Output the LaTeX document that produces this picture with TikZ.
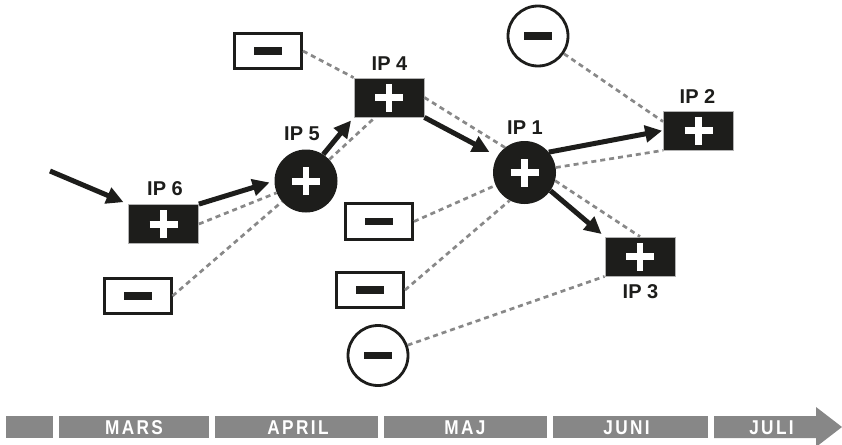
\documentclass[tikz,border=0pt]{standalone}
\usepackage{fontspec}
\setmainfont{Liberation Sans}
\usetikzlibrary{arrows.meta}
\definecolor{ink}{HTML}{1D1D1B}
\definecolor{bargray}{HTML}{878787}
\definecolor{dashgray}{HTML}{888888}
\tikzset{
  plussign/.style={path picture={
    \draw[white,line width=7pt] ([xshift=-14pt]path picture bounding box.center) -- ([xshift=14pt]path picture bounding box.center);
    \draw[white,line width=6.5pt] ([yshift=-14pt]path picture bounding box.center) -- ([yshift=14pt]path picture bounding box.center);}},
  minussign/.style={path picture={
    \fill[ink] ([xshift=-14pt,yshift=-3.8pt]path picture bounding box.center) rectangle ([xshift=14pt,yshift=3.8pt]path picture bounding box.center);}},
  ipbox/.style={rectangle, fill=ink, draw=gray!60, line width=0.8pt, minimum width=70pt, minimum height=39pt, inner sep=0pt, plussign},
  ipcirc/.style={circle, fill=ink, minimum size=63pt, inner sep=0pt, plussign},
  minbox/.style={rectangle, fill=white, draw=ink, line width=3pt, minimum width=67pt, minimum height=35.5pt, inner sep=0pt, minussign},
  mincirc/.style={circle, fill=white, draw=ink, line width=2.8pt, minimum size=60pt, inner sep=0pt, minussign},
  iplabel/.style={font=\bfseries\fontsize{20}{21}\selectfont, inner sep=0pt, text=ink},
  monthlabel/.style={font=\bfseries\fontsize{20}{21}\selectfont\addfontfeatures{FakeStretch=0.86,LetterSpace=12}, inner sep=0pt, text=white},
  arr/.style={draw=ink, line width=5pt, -{Triangle[length=17pt,width=16.5pt]}},
  dsh/.style={draw=dashgray, line width=2.7pt, dash pattern=on 5pt off 4pt},
}
\begin{document}
\begin{tikzpicture}[x=1pt,y=-1pt]
\useasboundingbox (0,0) rectangle (842,444);

\node[minbox] (m1) at (268,51) {};
\node[ipbox] (ip4) at (389,97.5) {};
\node[ipbox] (ip6) at (163.5,224) {};
\node[ipcirc] (ip5) at (306,181) {};
\node[ipcirc] (ip1) at (524.5,172.5) {};
\node[mincirc] (mc1) at (538,36) {};
\node[ipbox] (ip2) at (698.5,130.5) {};
\node[ipbox] (ip3) at (640,256.5) {};
\node[minbox] (m2) at (379,221.5) {};
\node[minbox] (m3) at (370,290) {};
\node[minbox] (m4) at (137.5,296) {};
\node[mincirc] (mc2) at (378,355.5) {};

% dashed links
\draw[dsh] (m1.east) -- (ip4.north west);
\draw[dsh] (ip6.east) -- (ip5);
\draw[dsh] (m4.east) -- (ip5);
\draw[dsh] (ip5) -- ([xshift=-14pt]ip4.south);
\draw[dsh] (ip4.east) -- (ip1.128);
\draw[dsh] (mc1) -- ([yshift=-11pt]ip2.north west);
\draw[dsh] (ip1) -- (ip2.south west);
\draw[dsh] (ip1.-15) -- (ip3.north);
\draw[dsh] (m2.east) -- (ip1);
\draw[dsh] (m3.east) -- (ip1.-118);
\draw[dsh] (mc2) -- (ip3.south west);

% labels
\node[iplabel] (l6) at (165,189) {IP 6};
\node[iplabel] (l5) at (302,134) {IP 5};
\node[iplabel] (l4) at (389.5,63.5) {IP 4};
\node[iplabel] (l1) at (525,128) {IP 1};
\node[iplabel] (l2) at (697.5,97) {IP 2};
\node[iplabel] (l3) at (640.5,292) {IP 3};

% solid arrows
\coordinate (start) at (50,171);
\draw[arr, shorten >=5pt] (start) -- (ip6.north west);
\draw[arr, shorten >=5pt] (ip6.north east) -- (ip5.west);
\draw[arr, shorten >=4pt] (ip5.57) -- (ip4.south west);
\draw[arr, shorten >=9pt] (ip4.south east) -- (ip1.149);
\draw[arr, shorten >=1pt] (ip1.40) -- (ip2.west);
\draw[arr, shorten >=4pt] (ip1.-35) -- (ip3.north west);

% timeline
\fill[bargray] (6,416) rectangle (53,438);
\fill[bargray] (59,416) rectangle (209,438);
\fill[bargray] (215,416) rectangle (378,438);
\fill[bargray] (384,416) rectangle (547,438);
\fill[bargray] (553,416) rectangle (708,438);
\fill[bargray] (714,416) -- (816,416) -- (816,407) -- (842,427) -- (816,447) -- (816,438) -- (714,438) -- cycle;
\node[monthlabel] (tm) at (134,428) {MARS};
\node[monthlabel] (ta) at (298,428) {APRIL};
\node[monthlabel] (tj) at (465,428) {MAJ};
\node[monthlabel] (tu) at (626.5,428) {JUNI};
\node[monthlabel] (tl) at (771.5,428) {JULI};
\end{tikzpicture}
\end{document}
